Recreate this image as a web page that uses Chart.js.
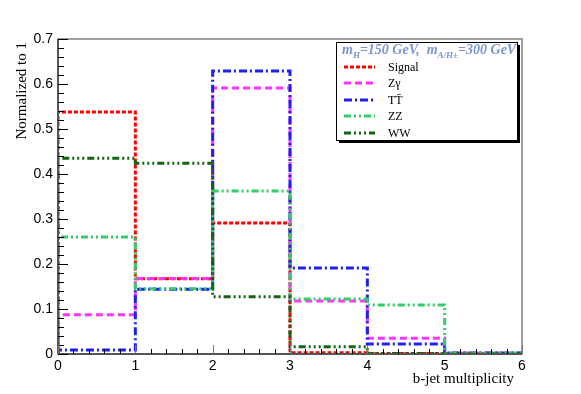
<!DOCTYPE html>
<html>
<head>
<meta charset="utf-8">
<script src="https://cdn.jsdelivr.net/npm/chart.js@4/dist/chart.umd.min.js"></script>
<style>
html,body{margin:0;padding:0;background:#fff;}
#wrap{position:relative;width:581px;height:394px;}
</style>
</head>
<body>
<div id="wrap"><canvas id="c" width="581" height="394"></canvas></div>
<script>
// bin edges (b-jet multiplicity)
const binEdges = [0, 1, 2, 3, 4, 5, 6];
const seriesNames = ["Signal", "Z\u03b3", "TT\u0304", "ZZ", "WW"];
const signalVals = [0.538, 0.167, 0.291, 0.003, 0.001, 0.000];
const zgammaVals = [0.087, 0.168, 0.591, 0.118, 0.035, 0.002];
const ttVals     = [0.009, 0.144, 0.629, 0.191, 0.022, 0.002];
const zzVals     = [0.260, 0.145, 0.362, 0.122, 0.109, 0.002];
const wwVals     = [0.435, 0.424, 0.127, 0.016, 0.001, 0.000];
const yTicks = [0, 0.1, 0.2, 0.3, 0.4, 0.5, 0.6, 0.7];
const xTicks = [0, 1, 2, 3, 4, 5, 6];

const colors = ["#ff0000", "#ff33ff", "#1f1fee", "#33cc66", "#116611"];
const dashes = [[4,2],[7,4],[8,3,2,3],[7,3,2,3,2,3],[7,3,2,3,2,3,2,3]];
const allVals = [signalVals, zgammaVals, ttVals, zzVals, wwVals];

// histogram outline: start at (x0,0), rise to each bin value at its low edge
function histPoints(vals){
  const pts = [{x: binEdges[0], y: 0}];
  for (let i = 0; i < vals.length; i++) pts.push({x: binEdges[i], y: vals[i]});
  pts.push({x: binEdges[binEdges.length-1], y: vals[vals.length-1]});
  pts.push({x: binEdges[binEdges.length-1], y: 0});
  return pts;
}

const datasets = allVals.map((v, i) => ({
  label: seriesNames[i],
  data: histPoints(v),
  borderColor: colors[i],
  borderDash: dashes[i],
  borderWidth: 3,
  stepped: 'before',
  pointRadius: 0,
  fill: false,
  order: 5 - i
}));

const SERIF = '"Liberation Serif", "Times New Roman", serif';
const SANS = '"Liberation Sans", Arial, Helvetica, sans-serif';

const decor = {
  id: 'decor',
  afterDatasetsDraw(chart){
    const {ctx, chartArea: a, scales} = chart;
    ctx.save();
    ctx.strokeStyle = '#808080';
    ctx.lineWidth = 1.5;
    ctx.strokeRect(a.left, a.top, a.right - a.left, a.bottom - a.top);
    ctx.strokeStyle = '#555';
    ctx.lineWidth = 2;
    ctx.beginPath();
    ctx.moveTo(a.left, a.top); ctx.lineTo(a.left, a.bottom);
    ctx.moveTo(a.left, a.bottom); ctx.lineTo(a.right, a.bottom);
    ctx.stroke();
    ctx.lineWidth = 1;
    ctx.strokeStyle = '#000';
    const ys = scales.y;
    for (let k = 0; k <= 35; k++) {
      const v = k * 0.02;
      const py = Math.round(ys.getPixelForValue(v)) + 0.5;
      const len = (k % 5 === 0) ? 10 : 6;
      ctx.beginPath(); ctx.moveTo(a.left, py); ctx.lineTo(a.left + len, py); ctx.stroke();
    }
    const xs = scales.x;
    for (let k = 0; k <= 30; k++) {
      const v = k * 0.2;
      const px = Math.round(xs.getPixelForValue(v)) + 0.5;
      const len = (k % 5 === 0) ? 9 : 5;
      ctx.strokeStyle = (k % 5 === 0) ? '#777' : '#000';
      ctx.beginPath(); ctx.moveTo(px, a.bottom); ctx.lineTo(px, a.bottom - len); ctx.stroke();
    }
    ctx.restore();
  },
  afterDraw(chart){
    const {ctx} = chart;
    ctx.save();
    ctx.fillStyle = '#000';
    ctx.font = '15px ' + SERIF;
    ctx.textAlign = 'right';
    ctx.textBaseline = 'middle';
    ctx.fillText('b-jet multiplicity', 514, 379);
    ctx.save();
    ctx.translate(22, 42);
    ctx.rotate(-Math.PI/2);
    ctx.textAlign = 'right';
    ctx.fillText('Normalized to 1', 0, 0);
    ctx.restore();

    const bx = 336, by = 42, bw = 181, bh = 98;
    ctx.fillStyle = '#000';
    ctx.fillRect(bx + 3, by + 3, bw, bh);
    ctx.fillStyle = '#fff';
    ctx.fillRect(bx, by, bw, bh);
    ctx.strokeStyle = '#000';
    ctx.lineWidth = 1;
    ctx.strokeRect(bx + 0.5, by + 0.5, bw, bh);

    ctx.fillStyle = '#7b96d0';
    ctx.textAlign = 'left';
    ctx.textBaseline = 'alphabetic';
    let x = 342; const base = 54;
    const big = 'italic bold 14px ' + SERIF, small = 'italic bold 9px ' + SERIF;
    const parts = [[big,'m',0],[small,'H',4],[big,'=150 GeV,  m',0],[small,'A/H\u00b1',4],[big,'=300 GeV',0]];
    for (const [f, t, dy] of parts) {
      ctx.font = f;
      ctx.fillText(t, x, base + dy);
      x += ctx.measureText(t).width;
    }
    const rows = [67, 83, 100, 116, 133];
    ctx.font = '12px ' + SERIF;
    ctx.textBaseline = 'middle';
    for (let i = 0; i < 5; i++) {
      ctx.strokeStyle = colors[i];
      ctx.lineWidth = 3;
      ctx.setLineDash(dashes[i]);
      ctx.beginPath(); ctx.moveTo(344, rows[i]); ctx.lineTo(375, rows[i]); ctx.stroke();
      ctx.setLineDash([]);
      ctx.fillStyle = '#000';
      ctx.fillText(seriesNames[i], 388, rows[i] + 1);
    }
    ctx.restore();
  }
};

new Chart(document.getElementById('c'), {
  type: 'line',
  data: { datasets },
  options: {
    responsive: false,
    animation: false,
    layout: { padding: { left: 0, top: 39, right: 59, bottom: 0 } },
    plugins: { legend: { display: false }, tooltip: { enabled: false } },
    scales: {
      x: {
        type: 'linear', min: 0, max: 6,
        afterBuildTicks(s){ s.ticks = xTicks.map(v => ({value: v})); },
        afterFit(s){ s.height = 40; },
        grid: { display: false, drawTicks: false },
        border: { display: false },
        ticks: { padding: 4, color: '#000', font: { family: SANS, size: 14 }, maxRotation: 0,
                 callback: v => String(v) }
      },
      y: {
        type: 'linear', min: 0, max: 0.7,
        afterBuildTicks(s){ s.ticks = yTicks.map(v => ({value: v})); },
        afterFit(s){ s.width = 58; },
        grid: { display: false, drawTicks: false },
        border: { display: false },
        ticks: { padding: 5, color: '#000', font: { family: SANS, size: 14 },
                 callback: v => (v === 0 ? '0' : (+v).toFixed(1)) }
      }
    }
  },
  plugins: [decor]
});
</script>
</body>
</html>
